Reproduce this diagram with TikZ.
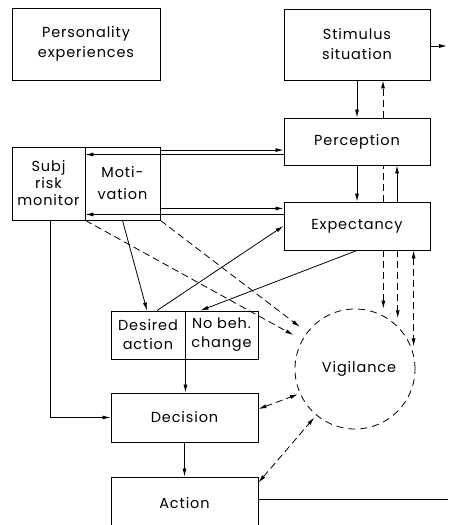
\documentclass[tikz,border=0pt]{standalone}
\usepackage{fontspec}
\setmainfont{Poppins}[LetterSpace=6]
\usetikzlibrary{arrows.meta,calc}
\tikzset{
  box/.style={draw, line width=0.9pt, align=center, inner sep=0pt,
    font=\fontsize{14.5}{20}\selectfont},
  conn/.style={line width=0.8pt},
  arr/.style={conn, -{Latex[length=8pt,width=4pt]}},
  darr/.style={arr, dash pattern=on 7pt off 4pt},
  dline/.style={conn, dash pattern=on 7pt off 4pt},
  dboth/.style={conn, dash pattern=on 7pt off 4pt, {Latex[length=8pt,width=4pt]}-{Latex[length=8pt,width=4pt]}},
}
\begin{document}
\begin{tikzpicture}[x=1pt,y=-1pt]
\useasboundingbox (0,0) rectangle (448,525);
\clip (0,0) rectangle (448,525);
\fill[white] (0,0) rectangle (448,525);

% boxes
\node[box, minimum width=148pt, minimum height=72pt] (pers) at (86,44) {Personality\\experiences};
\node[box, minimum width=146pt, minimum height=71pt] (stim) at (357,44.5) {Stimulus\\situation};
\node[box, minimum width=146pt, minimum height=47pt] (perc) at (357,141.5) {Perception};
\node[box, minimum width=146pt, minimum height=48pt] (expt) at (357,226) {Expectancy};
\node[box, minimum width=73pt, minimum height=73pt, font=\fontsize{14.5}{17}\selectfont] (subj) at (48.5,183.5) {Subj\\risk\\monitor};
\node[box, minimum width=75pt, minimum height=73pt, font=\fontsize{14.5}{22}\selectfont] (moti) at (122.5,183.5) {Moti-\\vation};
\node[box, minimum width=74pt, minimum height=48pt, font=\fontsize{14.5}{19}\selectfont] (desi) at (148,335) {Desired\\action};
\node[box, minimum width=73pt, minimum height=48pt, font=\fontsize{14.5}{19}\selectfont] (nobe) at (221.5,335) {No beh.\\change};
\node[box, minimum width=147pt, minimum height=49pt] (deci) at (184.5,417.5) {Decision};
\node[box, minimum width=147pt, minimum height=52pt] (acti) at (184.5,503) {Action};
\node[circle, draw, line width=0.8pt, dash pattern=on 7pt off 5pt, minimum size=120pt, inner sep=0pt,
  font=\fontsize{14.5}{20}\selectfont] (vig) at (355,369) {\hspace*{8pt}Vigilance};

% free ends
\coordinate (sout) at (447,46);
\coordinate (aout) at (448,499);

% Stimulus / Perception / Expectancy
\draw[arr] (stim.south) -- (perc.north);
\draw[darr] ([xshift=26pt]perc.north) -- ([xshift=26pt]stim.south);
\draw[arr] (perc.south) -- (expt.north);
\draw[dline] ([xshift=26pt]expt.north) -- ([xshift=26pt]perc.south);
\draw[arr] ([xshift=40pt]expt.north) -- ([xshift=40pt]perc.south);
\draw[arr] ([yshift=-1.5pt]stim.east) -- (sout);

% Expectancy -> Vigilance
\draw[darr, shorten >=7pt] (vig.62 |- expt.south) -- (vig.62);
\draw[darr, shorten >=8pt] (vig.45.6 |- expt.south) -- (vig.45.6);
\draw[dboth, shorten >=8pt] (vig.14 |- expt.south) -- (vig.14);

% Motivation / Subj <-> Perception / Expectancy
\coordinate (m1) at ([yshift=-3.5pt]moti.north east);
\coordinate (m2) at ([yshift=-8pt]subj.north east);
\coordinate (m3) at ([yshift=12pt]moti.south east);
\coordinate (m4) at ([yshift=6pt]subj.south east);
\draw[arr] (m1) -- (m1 -| perc.west);
\draw[arr] (m2 -| perc.west) -- (m2);
\draw[arr] (m3) -- (m3 -| expt.west);
\draw[arr] (m4 -| expt.west) -- (m4);

% to desired action etc.
\draw[arr] (moti.south) -- ([xshift=-1pt]desi.north);
\draw[arr] ([xshift=9pt]desi.north) -- (expt.west);
\draw[arr] (expt.south) -- ([xshift=-21pt]nobe.north);

% dashed to vigilance
\draw[darr, shorten >=10pt] (subj.south east) -- (vig);
\draw[darr, shorten >=9pt] (moti.south east) -- (vig);

% decision chain
\draw[arr] ([xshift=1.5pt]subj.south) |- (deci.west);
\draw[arr] (desi.south east) -- (desi.south east |- deci.north);
\draw[arr] (deci.south) -- (acti.north);
\draw[conn] ([yshift=4pt]acti.east) -- (aout);

% vigilance <-> decision / action
\draw[dboth, shorten >=2pt] ([yshift=8.5pt]deci.east) -- (vig.204);
\draw[dboth, shorten >=3pt] ([yshift=-6pt]acti.north east) -- (vig.230);
\end{tikzpicture}
\end{document}
